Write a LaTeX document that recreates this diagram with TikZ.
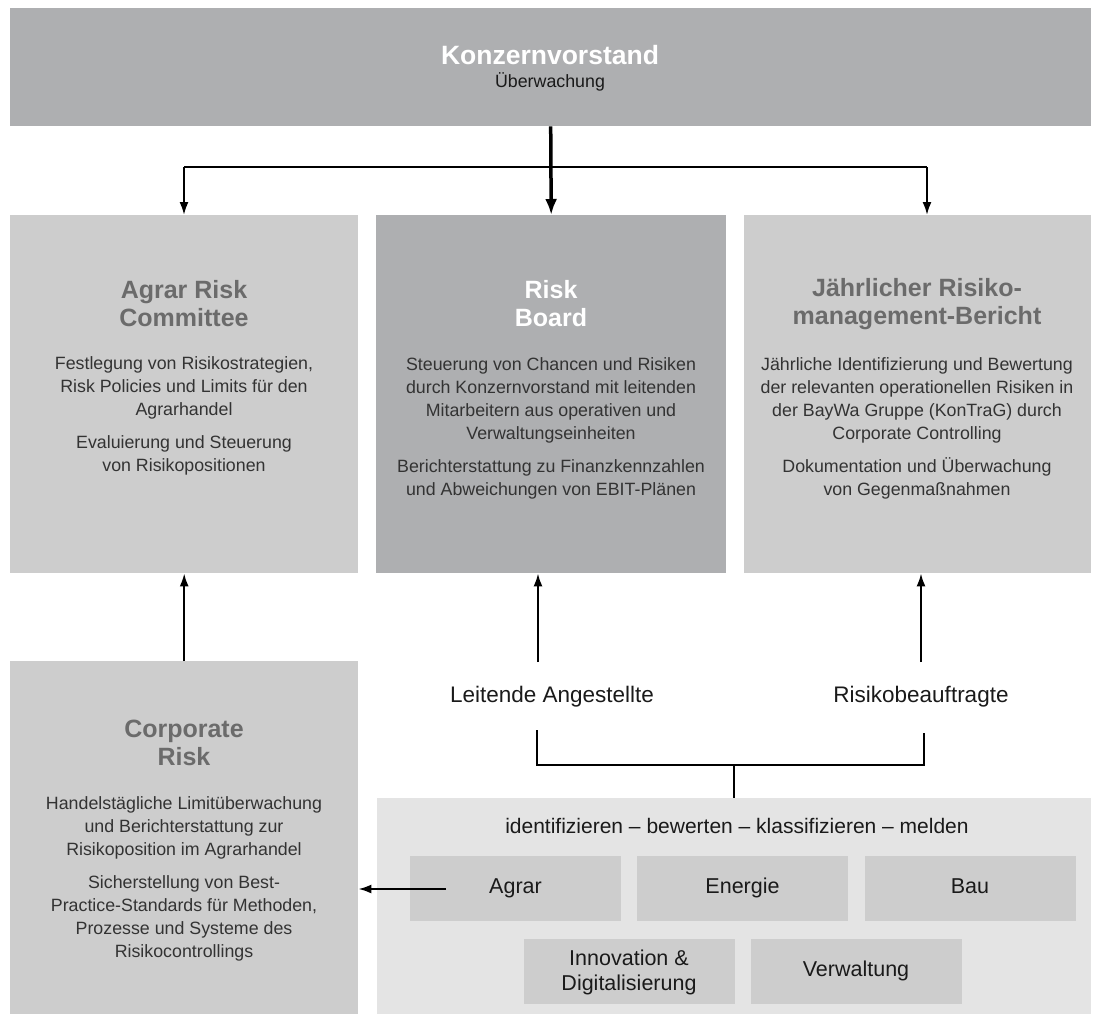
\documentclass[tikz,border=0pt]{standalone}
\usepackage{fontspec}
\setmainfont{Liberation Sans}
\usetikzlibrary{arrows.meta,positioning}
\definecolor{darkbox}{HTML}{AEAFB1}
\definecolor{lightbox}{HTML}{CDCDCD}
\definecolor{paleback}{HTML}{E4E4E4}
\definecolor{titlegray}{HTML}{6B6B6B}
\definecolor{bodygray}{HTML}{333333}
\definecolor{labelblack}{HTML}{1A1A1A}
\tikzstyle{panel}=[rectangle, anchor=north west, inner sep=0pt
%,draw
]
\tikzstyle{unit}=[rectangle, fill=lightbox, inner sep=0pt
,minimum width=211pt, minimum height=65pt
,align=center, text=labelblack
,font=\fontsize{21.5}{25}\selectfont
]
\tikzstyle{headline}=[align=center, inner sep=0pt, font=\fontsize{25}{28}\selectfont\bfseries]
\tikzstyle{bodytext}=[align=center, inner sep=0pt, text=bodygray, font=\fontsize{17.8}{23}\selectfont]
\tikzstyle{plainlabel}=[inner sep=0pt, text=labelblack, font=\fontsize{22.5}{25}\selectfont]
\tikzstyle{edge} = [draw, line width=2.5pt, -]
\tikzstyle{arrow} = [draw, line width=2pt, -{Latex[length=13pt,width=9pt]}]
\tikzstyle{bigarrow} = [draw, line width=3.5pt, -{Latex[length=16pt,width=12pt]}]

\begin{document}
\begin{tikzpicture}[x=1pt,y=-1pt]
    \useasboundingbox (0,0) rectangle (1097,1014);
    % Top board and the three bodies below it
    \node[panel, fill=darkbox, minimum width=1081pt, minimum height=118pt] (kv) at (10,8) {};
    \node[panel, fill=lightbox, minimum width=348pt, minimum height=358pt] (arc) at (10,215) {};
    \node[panel, fill=darkbox, minimum width=350pt, minimum height=358pt] (rb) at (376,215) {};
    \node[panel, fill=lightbox, minimum width=347pt, minimum height=358pt] (jrb) at (744,215) {};
    \node[panel, fill=lightbox, minimum width=348pt, minimum height=353pt] (cr) at (10,661) {};
    \node[panel, fill=paleback, minimum width=714pt, minimum height=216pt] (bg) at (377,798) {};

    % Texts
    \node[headline, text=white, font=\fontsize{26.5}{28}\selectfont\bfseries] (kvTitle) at (550,55) {Konzernvorstand};
    \node[bodytext, text=labelblack] (kvSub) at (550,82) {Überwachung};

    \node[headline, text=titlegray] (arcTitle) at (184,304) {Agrar Risk\\Committee};
    \node[bodytext] (arcBody) at (184,416) {Festlegung von Risikostrategien,\\Risk Policies und Limits für den\\Agrarhandel\\[10pt]Evaluierung und Steuerung\\von Risikopositionen};

    \node[headline, text=white] (rbTitle) at (551,304) {Risk\\Board};
    \node[bodytext] (rbBody) at (551,428) {Steuerung von Chancen und Risiken\\durch Konzernvorstand mit leitenden\\Mitarbeitern aus operativen und\\Verwaltungseinheiten\\[10pt]Berichterstattung zu Finanzkennzahlen\\und Abweichungen von EBIT-Plänen};

    \node[headline, text=titlegray] (jrbTitle) at (917,304) {Jährlicher Risiko-\\management-Bericht};
    \node[bodytext] (jrbBody) at (917,428) {Jährliche Identifizierung und Bewertung\\der relevanten operationellen Risiken in\\der BayWa Gruppe (KonTraG) durch\\Corporate Controlling\\[10pt]Dokumentation und Überwachung\\von Gegenmaßnahmen};

    \node[headline, text=titlegray] (crTitle) at (184,743) {Corporate\\Risk};
    \node[bodytext] (crBody) at (184,879) {Handelstägliche Limitüberwachung\\und Berichterstattung zur\\Risikoposition im Agrarhandel\\[10pt]Sicherstellung von Best-\\Practice-Standards für Methoden,\\Prozesse und Systeme des\\Risikocontrollings};

    \node[plainlabel] (lead) at (552,697) {Leitende Angestellte};
    \node[plainlabel] (officer) at (921,697) {Risikobeauftragte};
    \node[plainlabel, font=\fontsize{21}{25}\selectfont] (steps) at (737,826) {identifizieren – bewerten – klassifizieren – melden};

    % Business units
    \foreach \pos/\name/\txt in {{(515.5,888.5)/agrar/Agrar}, {(742.5,888.5)/energie/Energie},
        {(970,888.5)/bau/Bau}, {(629,971.5)/innov/{Innovation \&\\Digitalisierung}},
        {(856,971.5)/verw/Verwaltung}}
        \node[unit] (\name) at \pos {\strut\txt};

    % Connectors
    \coordinate (splitL) at (184,167);
    \coordinate (splitR) at (927,167);
    \coordinate (leadUp) at (538,662);
    \coordinate (officerUp) at (921,662);
    \coordinate (brL) at (537,730);
    \coordinate (brR) at (924,733);
    \coordinate (agrarOut) at (446,889);
    \path[edge] (splitL) -- (splitR);
    \path[bigarrow] (kv.south) -- (rb.north);
    \path[arrow] (splitL) -- (splitL |- arc.north);
    \path[arrow] (splitR) -- (splitR |- jrb.north);
    \path[arrow] (cr.north) -- (arc.south);
    \path[arrow] (leadUp) -- (leadUp |- rb.south);
    \path[arrow] (officerUp) -- (officerUp |- jrb.south);
    \path[edge] (brL) -- (brL |- 0,765) -- (brR |- 0,765) -- (brR);
    \draw[line width=1.5pt] (bg.north |- 0,765) -- (bg.north);
    \path[arrow] (agrarOut) -- (agrarOut -| cr.east);
\end{tikzpicture}
\end{document}
